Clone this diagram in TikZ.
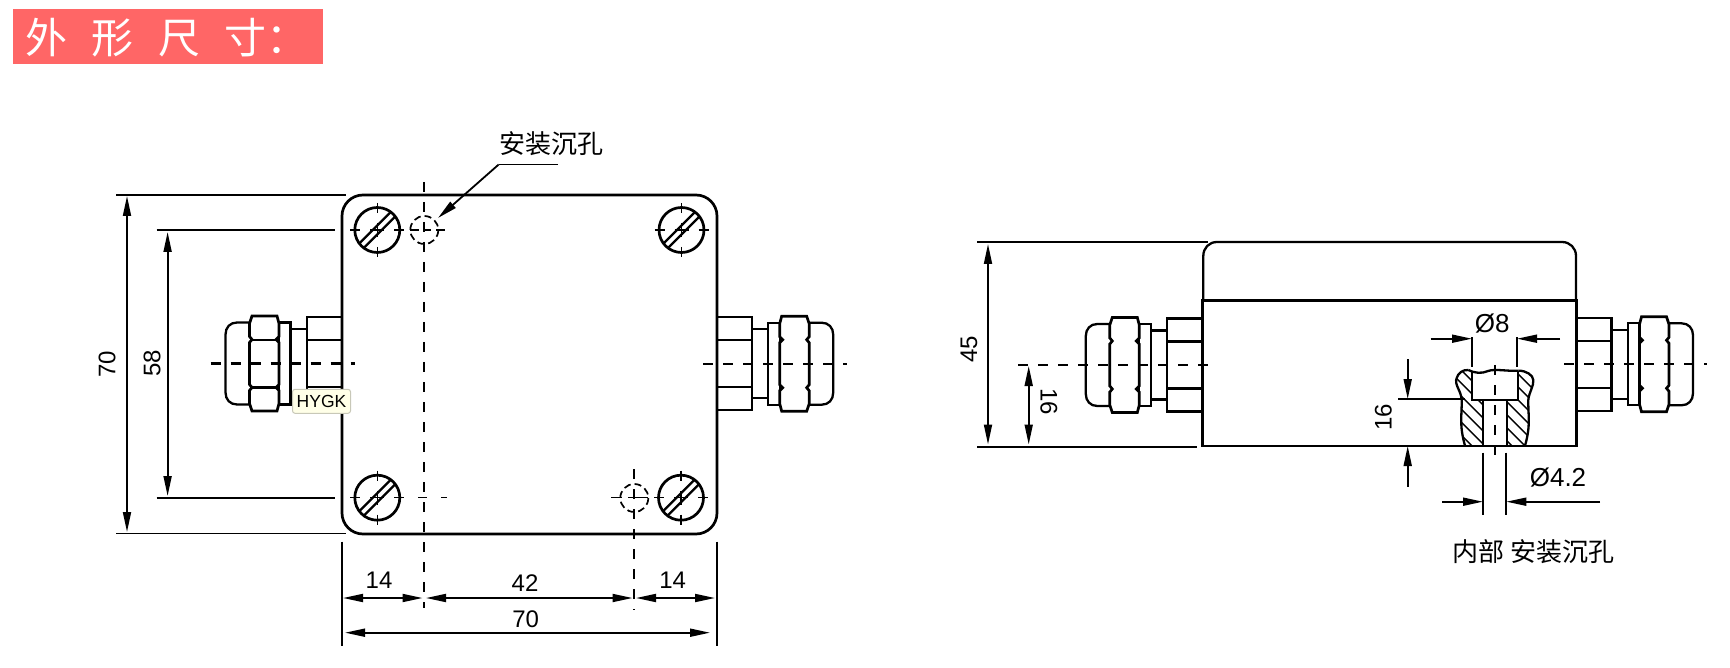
\documentclass[tikz,border=0pt]{standalone}
\usepackage{fontspec}
\setmainfont{Liberation Sans}
\newfontfamily\cjkfont{Noto Sans CJK SC}
\usetikzlibrary{arrows.meta}
\definecolor{titlered}{HTML}{FF6666}
\definecolor{tipfill}{HTML}{FFFFE8}
\definecolor{tipline}{HTML}{C8C8B8}
\tikzset{
  body/.style={draw=black,line width=2.7pt},
  thinbody/.style={draw=black,line width=2.3pt},
  dimline/.style={draw=black,line width=1.8pt},
  extline/.style={draw=black,line width=1.7pt},
  dimarrow/.style={dimline,-{Stealth[inset=0pt,length=20pt,width=8pt]}},
  dimboth/.style={dimline,{Stealth[inset=0pt,length=20pt,width=8pt]}-{Stealth[inset=0pt,length=20pt,width=8pt]}},
  centerdash/.style={draw=black,line width=2.1pt,dash pattern=on 10pt off 10pt},
  crossmark/.style={draw=black,line width=1.2pt},
  hiddencircle/.style={draw=black,line width=1.7pt,dash pattern=on 7pt off 4pt},
  hatchline/.style={draw=black,line width=1.4pt},
  dimtext/.style={font=\fontsize{24}{24}\selectfont,inner sep=0pt},
  phitext/.style={font=\fontsize{26}{26}\selectfont,inner sep=0pt},
  cjktext/.style={font=\cjkfont\fontsize{26}{26}\selectfont,inner sep=0pt},
  glandbody/.pic={
    \draw[thinbody] (0,-46.5) -- (35,-46.5) -- (35,46.5) -- (0,46.5);
    \draw[thinbody] (0,-23.5) -- (35,-23.5) (0,23.5) -- (35,23.5);
    \draw[thinbody] (35,-34.5) -- (51.5,-34.5) (35,34.5) -- (51.5,34.5);
    \draw[thinbody] (51.5,-41) rectangle (63,41);
    \draw[body,fill=white] (65,-47.5) -- (90,-47.5) -- (92.5,-40) -- (92.5,-27) -- (90,-24)
      -- (92.5,-21) -- (92.5,21) -- (90,24) -- (92.5,27) -- (92.5,40) -- (90,47.5)
      -- (65,47.5) -- (63,40) -- (63,27) -- (66,24) -- (63,21) -- (63,-21) -- (66,-24)
      -- (63,-27) -- (63,-40) -- cycle;
    \draw[thinbody] (92.5,-41) -- (105,-41) .. controls (112,-41) and (116.5,-36) .. (116.5,-29)
      -- (116.5,29) .. controls (116.5,36) and (112,41) .. (105,41) -- (92.5,41);
  },
  screwhead/.pic={
    \draw[body] (0,0) circle (22.5);
    \draw[thinbody] (-13.5,18) -- (18,-13.5);
    \draw[thinbody] (-18,13.5) -- (13.5,-18);
    \draw[crossmark] (-27,0) -- (-17,0) (-7,0) -- (7,0) (17,0) -- (27,0)
      (0,-27) -- (0,-17) (0,-7) -- (0,7) (0,17) -- (0,27);
  }
}
\def\leftbreak{(1465,445.7) .. controls (1459,425) and (1462,415) .. (1461.7,400)
  .. controls (1461,390) and (1454,385) .. (1456.7,378) .. controls (1458,373) and (1463,369.5) .. (1468.3,370)}
\def\rightbreak{(1525,445.7) .. controls (1531,425) and (1528,415) .. (1528.3,400)
  .. controls (1529,392) and (1534,386) .. (1533.3,380) .. controls (1533,375) and (1526,370.5) .. (1518.3,370.7)}
\begin{document}
\begin{tikzpicture}[x=1pt,y=-1pt]
\useasboundingbox (0,0) rectangle (1730,668);
\fill[white] (0,0) rectangle (1730,668);

% title
\fill[titlered] (13,9.5) rectangle (323,64);
\node[anchor=west,inner sep=0pt,text=white,font=\cjkfont\fontsize{42}{42}\selectfont] (title) at (25,37.5)
  {外\hspace{24.5pt}形\hspace{24.5pt}尺\hspace{24.5pt}寸：};

% ---------- left view ----------
\draw[body,rounded corners=21pt] (342,195) rectangle (717,534);
\pic at (377.3,230) {screwhead};
\pic at (681.5,230) {screwhead};
\pic at (377.3,497.7) {screwhead};
\pic at (681,497.7) {screwhead};
% centre marks beyond the screws
\draw[crossmark] (410,230) -- (419,230) (424,230) -- (431,230) (436,230) -- (445,230);
\draw[crossmark] (418,497.7) -- (427,497.7) (441,497.7) -- (447,497.7);
\draw[crossmark] (611,497.7) -- (622,497.7) (628,497.7) -- (648,497.7);
\draw[hiddencircle] (424.3,230) circle (14);
\draw[hiddencircle] (634.3,498) circle (14);
\draw[centerdash] (424.3,182) -- (424.3,608);
\draw[centerdash] (634.3,469) -- (634.3,610);

% callout
\node[cjktext] (calloutA) at (551.5,143.5) {安装沉孔};
\coordinate (calloutEnd) at (558,164.5);
\coordinate (calloutBend) at (498.7,164.5);
\coordinate (calloutTip) at (438,218);
\draw[dimline] (calloutEnd) -- (calloutBend);
\draw[dimline,-{Stealth[inset=0pt,length=20pt,width=8pt]}] (calloutBend) -- (calloutTip);

% left view vertical dimensions
\draw[extline] (116,195) -- (346,195);
\draw[extline] (156.5,230) -- (335,230);
\draw[extline] (156.5,497.7) -- (335,497.7);
\draw[extline] (116,533.5) -- (346,533.5);
\draw[dimboth] (127,196) -- (127,532);
\draw[dimboth] (167.6,232) -- (167.6,496);
\node[dimtext,rotate=90] (dimA) at (107,364) {70};
\node[dimtext,rotate=90] (dimB) at (152,363) {58};

% left view horizontal dimensions
\draw[extline] (342,541.7) -- (342,646);
\draw[extline] (717,541.7) -- (717,646);
\draw[dimboth] (343,598) -- (422.5,598);
\draw[dimboth] (426,598) -- (632.5,598);
\draw[dimboth] (636,598) -- (715,598);
\draw[dimboth] (345,632.7) -- (710,632.7);
\node[dimtext] (dimC) at (379,580) {14};
\node[dimtext] (dimD) at (525,583) {42};
\node[dimtext] (dimE) at (672.7,580) {14};
\node[dimtext] (dimF) at (525.7,619) {70};

% glands on left view
\pic[xscale=-1] at (342,363.5) {glandbody};
\draw[thinbody] (252,340) -- (276,340) (252,387.5) -- (276,387.5);
\pic at (716.7,363.7) {glandbody};
\draw[centerdash] (210.7,363.5) -- (355,363.5);
\draw[centerdash] (703,363.7) -- (847,363.7);

% tooltip
\node[draw=tipline,fill=tipfill,rounded corners=2.5pt,line width=1pt,minimum width=58pt,minimum height=24pt,
      inner sep=0pt,font=\fontsize{17.5}{18}\selectfont] (tip) at (321.5,401.3) {HYGK};

% ---------- right view ----------
\draw[body] (1202.3,300.7) rectangle (1576.5,446);
\draw[thinbody] (1203.3,300.7) -- (1203.3,256) .. controls (1203.3,248) and (1209,242) .. (1217,242)
  -- (1562,242) .. controls (1570,242) and (1576,248) .. (1576,256) -- (1576,300.7);
\pic[xscale=-1] at (1202.3,365) {glandbody};
\pic at (1576.5,364.3) {glandbody};
\draw[centerdash] (1018,365) -- (1218,365);
\draw[centerdash] (1564,364.3) -- (1707,364.3);

% right view dimensions
\draw[extline] (977,242) -- (1208,242);
\draw[extline] (977,446.7) -- (1197,446.7);
\draw[dimboth] (988,244) -- (988,444.5);
\draw[dimboth] (1028.7,366) -- (1028.7,444.5);
\node[dimtext,rotate=90] (dimG) at (969,349) {45};
\node[dimtext,rotate=-90] (dimH) at (1049,402) {16};

% section hatching
\begin{scope}
  \clip \leftbreak -- (1472.3,372) -- (1472.3,400) -- (1483.3,400) -- (1483.3,445.7) -- cycle;
  \foreach \c in {310,323,...,440} \draw[hatchline] (1440,\c) -- (1540,\c+100);
\end{scope}
\begin{scope}
  \clip \rightbreak -- (1518.3,400) -- (1506.7,400) -- (1506.7,445.7) -- cycle;
  \foreach \c in {310,323,...,440} \draw[hatchline] (1440,\c-40) -- (1540,\c+60);
\end{scope}
% section outline
\draw[thinbody] \leftbreak;
\draw[thinbody] \rightbreak;
\draw[thinbody] (1468.3,370) .. controls (1474,373) and (1482,374) .. (1488,371)
  .. controls (1495,368.5) and (1508,371.5) .. (1518.3,370.7);
\draw[thinbody] (1472.3,371.5) -- (1472.3,400) -- (1518.3,400) -- (1518.3,370.7);
\draw[thinbody] (1483.3,400) -- (1483.3,445.7) (1506.7,400) -- (1506.7,445.7);
\draw[centerdash] (1495,365) -- (1495,456.7);

% section dimensions
\draw[extline] (1472.3,337.3) -- (1472.3,366.7);
\draw[extline] (1516.7,337.3) -- (1516.7,366.7);
\draw[dimarrow] (1430.7,338.7) -- (1472,338.7);
\draw[dimarrow] (1560,338.7) -- (1517,338.7);
\node[phitext] (dimI) at (1492.3,324) {Ø8};
\draw[extline] (1398,399) -- (1465,399);
\draw[dimarrow] (1407.7,359.3) -- (1407.7,399);
\draw[dimarrow] (1407.7,486.7) -- (1407.7,446);
\node[dimtext,rotate=90] (dimJ) at (1383.3,417.3) {16};
\draw[extline] (1483,452.7) -- (1483,515);
\draw[extline] (1506.3,452.7) -- (1506.3,515);
\draw[dimarrow] (1442.3,501.7) -- (1483,501.7);
\draw[dimarrow] (1600,501.7) -- (1506.3,501.7);
\node[phitext] (dimK) at (1558,478) {Ø4.2};
\node[cjktext] (captionB) at (1533.5,551.5) {内部 安装沉孔};
\end{tikzpicture}
\end{document}
